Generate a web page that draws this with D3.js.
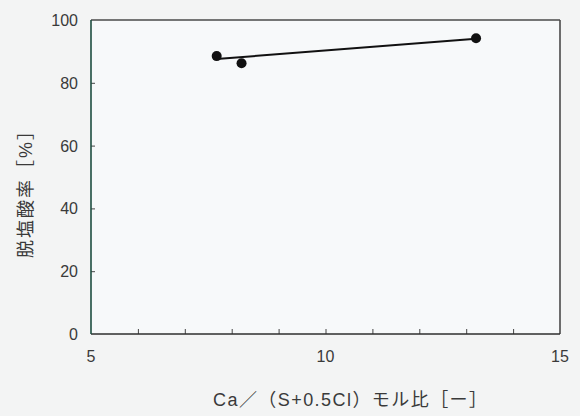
<!DOCTYPE html>
<html>
<head>
<meta charset="utf-8">
<script src="https://cdn.jsdelivr.net/npm/d3@7"></script>
<style>
  html, body { margin: 0; padding: 0; background: #f3f4f4; }
  svg text { font-family: "Liberation Sans", Arial, sans-serif; fill: #3a3a3a; }
  svg text.cjk { font-family: "Liberation Sans", "Noto Sans CJK JP", sans-serif; }
</style>
</head>
<body>
<svg width="580" height="416"></svg>
<script>
// data
const ratio = [7.68, 8.21, 13.21];
const removal = [88.5, 86.2, 94.2];
const fitX = [7.68, 13.21];
const fitY = [87.6, 94.0];
const xTicks = [5, 10, 15];
const xMinor = [6, 7, 8, 9, 10, 11, 12, 13, 14];
const yTicks = [0, 20, 40, 60, 80, 100];

// 0. setup
// ----------------------------------
const svg = d3.select('svg');
const plotL = 91, plotR = 560, plotT = 20, plotB = 334;

const x = d3.scaleLinear().domain([5, 15]).range([plotL, plotR]);
const y = d3.scaleLinear().domain([0, 100]).range([plotB, plotT]);

svg.append('rect')
    .attr('x', plotL)
    .attr('y', plotT)
    .attr('width', plotR - plotL)
    .attr('height', plotB - plotT)
    .style('fill', '#f7f9fa');

// 1. axes
// ----------------------------------
svg.append('g')
    .attr('transform', `translate(0,${plotB})`)
    .call(d3.axisTop(x).tickValues(xMinor).tickSize(5).tickFormat(''))
    .call((g) => g.select('.domain').remove())
    .call((g) => g.selectAll('line').style('stroke', '#444'));

svg.append('g')
    .attr('transform', `translate(${plotL},0)`)
    .call(d3.axisRight(y).tickValues([20, 40, 60, 80]).tickSize(4).tickFormat(''))
    .call((g) => g.select('.domain').remove())
    .call((g) => g.selectAll('line').style('stroke', '#444'));

svg.selectAll('.xlab')
    .data(xTicks)
    .enter()
    .append('text')
    .attr('x', (d) => x(d))
    .attr('y', plotB + 28)
    .attr('text-anchor', 'middle')
    .style('font-size', '16px')
    .text((d) => d);

svg.selectAll('.ylab')
    .data(yTicks)
    .enter()
    .append('text')
    .attr('x', plotL - 13)
    .attr('y', (d) => y(d) + 6)
    .attr('text-anchor', 'end')
    .style('font-size', '16px')
    .text((d) => d);

// frame
const frame = svg.append('g').style('fill', 'none').style('stroke-width', 1.6);
frame.append('line').attr('x1', plotL).attr('x2', plotR).attr('y1', plotT).attr('y2', plotT)
    .style('stroke', '#4a4a4a');
frame.append('line').attr('x1', plotR).attr('x2', plotR).attr('y1', plotT).attr('y2', plotB)
    .style('stroke', '#4a4a4a');
frame.append('line').attr('x1', plotL).attr('x2', plotR).attr('y1', plotB).attr('y2', plotB)
    .style('stroke', '#2e2e2e');
frame.append('line').attr('x1', plotL).attr('x2', plotL).attr('y1', plotT).attr('y2', plotB)
    .style('stroke', '#1d4e40');

// 2. titles
// ----------------------------------
svg.append('text')
    .classed('cjk', true)
    .attr('x', 213)
    .attr('y', 406)
    .attr('textLength', 274)
    .attr('lengthAdjust', 'spacing')
    .style('font-size', '18px')
    .text('Ca／（S+0.5Cl）モル比［ー］');

svg.append('text')
    .classed('cjk', true)
    .attr('transform', 'translate(32,258) rotate(-90)')
    .attr('textLength', 136)
    .attr('lengthAdjust', 'spacing')
    .style('font-size', '18px')
    .text('脱塩酸率［%］');

// 3. fit line and points
// ----------------------------------
svg.append('path')
    .datum(d3.zip(fitX, fitY))
    .attr('d', d3.line().x((d) => x(d[0])).y((d) => y(d[1])))
    .style('fill', 'none')
    .style('stroke', '#111')
    .style('stroke-width', 2);

svg.selectAll('.pt')
    .data(d3.zip(ratio, removal))
    .enter()
    .append('circle')
    .attr('cx', (d) => x(d[0]))
    .attr('cy', (d) => y(d[1]))
    .attr('r', 5)
    .style('fill', '#111');
</script>
</body>
</html>
